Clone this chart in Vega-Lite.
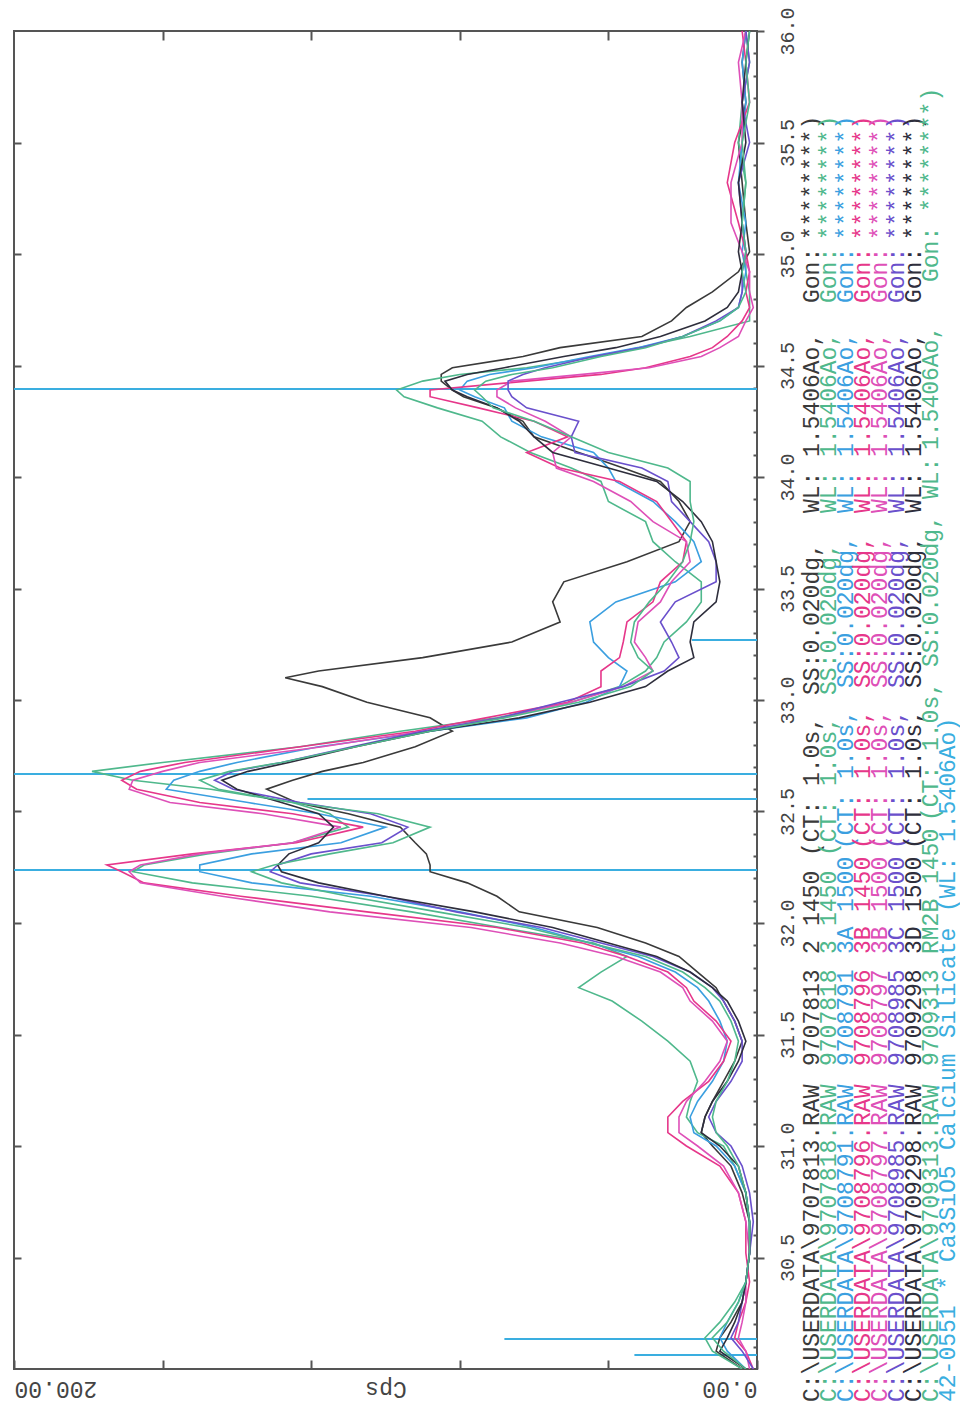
{
"$schema":"https://vega.github.io/schema/vega-lite/v6.json",
"padding":{"left":12,"top":5,"right":0,"bottom":0},
"background":"white",
"config":{"font":"Liberation Mono","view":{"stroke":"#555","strokeWidth":2},"axis":{"labelFont":"Liberation Mono","titleFont":"Liberation Mono","labelColor":"#444","titleColor":"#444","tickColor":"#555","tickWidth":2,"domain":false,"grid":false,"titleFontWeight":"normal"}},
"datasets":{
"sticks":[{"t":34.395,"c":200},{"t":32.668,"c":200},{"t":32.556,"c":121},{"t":32.238,"c":200},{"t":33.269,"c":17.5},{"t":30.135,"c":68},{"t":30.063,"c":33}],
"legend":[
{"line":1,"col":0,"s":"9707813","txt":"C:\\USERDATA\\9707813.RAW"},{"line":1,"col":24,"s":"9707813","txt":"9707813"},{"line":1,"col":32,"s":"9707813","txt":"2"},{"line":1,"col":34,"s":"9707813","txt":"1450"},{"line":1,"col":39,"s":"9707813","txt":"(CT:"},{"line":1,"col":44,"s":"9707813","txt":"1.0s,"},{"line":1,"col":50.5,"s":"9707813","txt":"SS:0.020dg,"},{"line":1,"col":63.5,"s":"9707813","txt":"WL:"},{"line":1,"col":67.5,"s":"9707813","txt":"1.5406Ao,"},{"line":1,"col":78.5,"s":"9707813","txt":"Gon:"},{"line":1,"col":83,"s":"9707813","txt":"********)"},
{"line":2,"col":0,"s":"9707818","txt":"C:\\USERDATA\\9707818.RAW"},{"line":2,"col":24,"s":"9707818","txt":"9707818"},{"line":2,"col":32,"s":"9707818","txt":"3"},{"line":2,"col":34,"s":"9707818","txt":"1450"},{"line":2,"col":39,"s":"9707818","txt":"(CT:"},{"line":2,"col":44,"s":"9707818","txt":"1.0s,"},{"line":2,"col":50.5,"s":"9707818","txt":"SS:0.020dg,"},{"line":2,"col":63.5,"s":"9707818","txt":"WL:"},{"line":2,"col":67.5,"s":"9707818","txt":"1.5406Ao,"},{"line":2,"col":78.5,"s":"9707818","txt":"Gon:"},{"line":2,"col":83,"s":"9707818","txt":"********)"},
{"line":3,"col":0,"s":"9708791","txt":"C:\\USERDATA\\9708791.RAW"},{"line":3,"col":24,"s":"9708791","txt":"9708791"},{"line":3,"col":32,"s":"9708791","txt":"3A"},{"line":3,"col":35,"s":"9708791","txt":"1500"},{"line":3,"col":39.5,"s":"9708791","txt":"(CT:"},{"line":3,"col":44.5,"s":"9708791","txt":"1.0s,"},{"line":3,"col":51,"s":"9708791","txt":"SS:0.020dg,"},{"line":3,"col":63.5,"s":"9708791","txt":"WL:"},{"line":3,"col":67.5,"s":"9708791","txt":"1.5406Ao,"},{"line":3,"col":78.5,"s":"9708791","txt":"Gon:"},{"line":3,"col":83,"s":"9708791","txt":"********)"},
{"line":4,"col":0,"s":"9708796","txt":"C:\\USERDATA\\9708796.RAW"},{"line":4,"col":24,"s":"9708796","txt":"9708796"},{"line":4,"col":32,"s":"9708796","txt":"3B"},{"line":4,"col":35,"s":"9708796","txt":"1450"},{"line":4,"col":39.5,"s":"9708796","txt":"(CT:"},{"line":4,"col":44.5,"s":"9708796","txt":"1.0s,"},{"line":4,"col":51,"s":"9708796","txt":"SS:0.020dg,"},{"line":4,"col":63.5,"s":"9708796","txt":"WL:"},{"line":4,"col":67.5,"s":"9708796","txt":"1.5406Ao,"},{"line":4,"col":78.5,"s":"9708796","txt":"Gon:"},{"line":4,"col":83,"s":"9708796","txt":"********)"},
{"line":5,"col":0,"s":"9708797","txt":"C:\\USERDATA\\9708797.RAW"},{"line":5,"col":24,"s":"9708797","txt":"9708797"},{"line":5,"col":32,"s":"9708797","txt":"3B"},{"line":5,"col":35,"s":"9708797","txt":"1500"},{"line":5,"col":39.5,"s":"9708797","txt":"(CT:"},{"line":5,"col":44.5,"s":"9708797","txt":"1.0s,"},{"line":5,"col":51,"s":"9708797","txt":"SS:0.020dg,"},{"line":5,"col":63.5,"s":"9708797","txt":"WL:"},{"line":5,"col":67.5,"s":"9708797","txt":"1.5406Ao,"},{"line":5,"col":78.5,"s":"9708797","txt":"Gon:"},{"line":5,"col":83,"s":"9708797","txt":"********)"},
{"line":6,"col":0,"s":"9708985","txt":"C:\\USERDATA\\9708985.RAW"},{"line":6,"col":24,"s":"9708985","txt":"9708985"},{"line":6,"col":32,"s":"9708985","txt":"3C"},{"line":6,"col":35,"s":"9708985","txt":"1500"},{"line":6,"col":39.5,"s":"9708985","txt":"(CT:"},{"line":6,"col":44.5,"s":"9708985","txt":"1.0s,"},{"line":6,"col":51,"s":"9708985","txt":"SS:0.020dg,"},{"line":6,"col":63.5,"s":"9708985","txt":"WL:"},{"line":6,"col":67.5,"s":"9708985","txt":"1.5406Ao,"},{"line":6,"col":78.5,"s":"9708985","txt":"Gon:"},{"line":6,"col":83,"s":"9708985","txt":"********)"},
{"line":7,"col":0,"s":"9709298","txt":"C:\\USERDATA\\9709298.RAW"},{"line":7,"col":24,"s":"9709298","txt":"9709298"},{"line":7,"col":32,"s":"9709298","txt":"3D"},{"line":7,"col":35,"s":"9709298","txt":"1500"},{"line":7,"col":39.5,"s":"9709298","txt":"(CT:"},{"line":7,"col":44.5,"s":"9709298","txt":"1.0s,"},{"line":7,"col":51,"s":"9709298","txt":"SS:0.020dg,"},{"line":7,"col":63.5,"s":"9709298","txt":"WL:"},{"line":7,"col":67.5,"s":"9709298","txt":"1.5406Ao,"},{"line":7,"col":78.5,"s":"9709298","txt":"Gon:"},{"line":7,"col":83,"s":"9709298","txt":"********)"},
{"line":8,"col":0,"s":"9709313","txt":"C:\\USERDATA\\9709313.RAW"},{"line":8,"col":24,"s":"9709313","txt":"9709313"},{"line":8,"col":32,"s":"9709313","txt":"RM2B"},{"line":8,"col":37,"s":"9709313","txt":"1450"},{"line":8,"col":41.5,"s":"9709313","txt":"(CT:"},{"line":8,"col":46.5,"s":"9709313","txt":"1.0s,"},{"line":8,"col":52.5,"s":"9709313","txt":"SS:0.020dg,"},{"line":8,"col":64.5,"s":"9709313","txt":"WL:"},{"line":8,"col":68,"s":"9709313","txt":"1.5406Ao,"},{"line":8,"col":80,"s":"9709313","txt":"Gon:"},{"line":8,"col":85,"s":"9709313","txt":"********)"},
{"line":9,"col":0,"s":"42-0551","txt":"42-0551"},{"line":9,"col":8,"s":"42-0551","txt":"*"},{"line":9,"col":10,"s":"42-0551","txt":"Ca3SiO5"},{"line":9,"col":18,"s":"42-0551","txt":"Calcium"},{"line":9,"col":26,"s":"42-0551","txt":"Silicate"},{"line":9,"col":35,"s":"42-0551","txt":"(WL:"},{"line":9,"col":40,"s":"42-0551","txt":"1.5406Ao)"}
],
"scans":[
{"s":"9707813","t":36,"c":3},{"s":"9707813","t":35.86,"c":4},{"s":"9707813","t":35.68,"c":3},{"s":"9707813","t":35.5,"c":5},{"s":"9707813","t":35.32,"c":4},{"s":"9707813","t":35.14,"c":3},{"s":"9707813","t":35.01,"c":2},{"s":"9707813","t":34.92,"c":5},{"s":"9707813","t":34.83,"c":12},{"s":"9707813","t":34.76,"c":19},{"s":"9707813","t":34.7,"c":23},{"s":"9707813","t":34.63,"c":31},{"s":"9707813","t":34.58,"c":53},{"s":"9707813","t":34.54,"c":63},{"s":"9707813","t":34.49,"c":82},{"s":"9707813","t":34.46,"c":85},{"s":"9707813","t":34.43,"c":85},{"s":"9707813","t":34.39,"c":82},{"s":"9707813","t":34.36,"c":79},{"s":"9707813","t":34.31,"c":70},{"s":"9707813","t":34.25,"c":63},{"s":"9707813","t":34.18,"c":60},{"s":"9707813","t":34.11,"c":48},{"s":"9707813","t":34.04,"c":36},{"s":"9707813","t":33.98,"c":26},{"s":"9707813","t":33.89,"c":21},{"s":"9707813","t":33.8,"c":18},{"s":"9707813","t":33.71,"c":21},{"s":"9707813","t":33.62,"c":35},{"s":"9707813","t":33.53,"c":52},{"s":"9707813","t":33.44,"c":55},{"s":"9707813","t":33.35,"c":53},{"s":"9707813","t":33.26,"c":66},{"s":"9707813","t":33.19,"c":90},{"s":"9707813","t":33.13,"c":118},{"s":"9707813","t":33.1,"c":127},{"s":"9707813","t":33.06,"c":117},{"s":"9707813","t":32.99,"c":105},{"s":"9707813","t":32.92,"c":88},{"s":"9707813","t":32.86,"c":82},{"s":"9707813","t":32.79,"c":92},{"s":"9707813","t":32.72,"c":106},{"s":"9707813","t":32.68,"c":117},{"s":"9707813","t":32.64,"c":125},{"s":"9707813","t":32.6,"c":132},{"s":"9707813","t":32.54,"c":124},{"s":"9707813","t":32.49,"c":110},{"s":"9707813","t":32.43,"c":96},{"s":"9707813","t":32.36,"c":92},{"s":"9707813","t":32.31,"c":89},{"s":"9707813","t":32.26,"c":88},{"s":"9707813","t":32.23,"c":88},{"s":"9707813","t":32.18,"c":78},{"s":"9707813","t":32.12,"c":70},{"s":"9707813","t":32.05,"c":64},{"s":"9707813","t":31.98,"c":43},{"s":"9707813","t":31.91,"c":30},{"s":"9707813","t":31.85,"c":21},{"s":"9707813","t":31.78,"c":16},{"s":"9707813","t":31.71,"c":11},{"s":"9707813","t":31.65,"c":9},{"s":"9707813","t":31.56,"c":6},{"s":"9707813","t":31.47,"c":4},{"s":"9707813","t":31.38,"c":6},{"s":"9707813","t":31.29,"c":9},{"s":"9707813","t":31.2,"c":12},{"s":"9707813","t":31.13,"c":14},{"s":"9707813","t":31.06,"c":15},{"s":"9707813","t":31,"c":12},{"s":"9707813","t":30.91,"c":7},{"s":"9707813","t":30.79,"c":4},{"s":"9707813","t":30.66,"c":2},{"s":"9707813","t":30.52,"c":2},{"s":"9707813","t":30.39,"c":3},{"s":"9707813","t":30.3,"c":4},{"s":"9707813","t":30.21,"c":7},{"s":"9707813","t":30.14,"c":10},{"s":"9707813","t":30.08,"c":11},{"s":"9707813","t":30,"c":4},
{"s":"9707818","t":36,"c":3},{"s":"9707818","t":35.86,"c":2},{"s":"9707818","t":35.68,"c":4},{"s":"9707818","t":35.5,"c":5},{"s":"9707818","t":35.32,"c":3},{"s":"9707818","t":35.14,"c":4},{"s":"9707818","t":35.01,"c":3},{"s":"9707818","t":34.92,"c":3},{"s":"9707818","t":34.83,"c":2},{"s":"9707818","t":34.76,"c":2},{"s":"9707818","t":34.7,"c":2},{"s":"9707818","t":34.63,"c":18},{"s":"9707818","t":34.58,"c":32},{"s":"9707818","t":34.54,"c":43},{"s":"9707818","t":34.49,"c":62},{"s":"9707818","t":34.46,"c":80},{"s":"9707818","t":34.43,"c":90},{"s":"9707818","t":34.39,"c":97},{"s":"9707818","t":34.36,"c":95},{"s":"9707818","t":34.31,"c":86},{"s":"9707818","t":34.25,"c":74},{"s":"9707818","t":34.18,"c":69},{"s":"9707818","t":34.11,"c":61},{"s":"9707818","t":34.04,"c":50},{"s":"9707818","t":33.98,"c":42},{"s":"9707818","t":33.89,"c":40},{"s":"9707818","t":33.8,"c":30},{"s":"9707818","t":33.71,"c":28},{"s":"9707818","t":33.62,"c":22},{"s":"9707818","t":33.53,"c":15},{"s":"9707818","t":33.44,"c":15},{"s":"9707818","t":33.35,"c":19},{"s":"9707818","t":33.26,"c":25},{"s":"9707818","t":33.19,"c":27},{"s":"9707818","t":33.13,"c":30},{"s":"9707818","t":33.06,"c":37},{"s":"9707818","t":32.99,"c":50},{"s":"9707818","t":32.92,"c":70},{"s":"9707818","t":32.86,"c":96},{"s":"9707818","t":32.79,"c":123},{"s":"9707818","t":32.72,"c":160},{"s":"9707818","t":32.68,"c":179},{"s":"9707818","t":32.64,"c":168},{"s":"9707818","t":32.6,"c":147},{"s":"9707818","t":32.54,"c":125},{"s":"9707818","t":32.49,"c":115},{"s":"9707818","t":32.43,"c":110},{"s":"9707818","t":32.36,"c":125},{"s":"9707818","t":32.31,"c":148},{"s":"9707818","t":32.26,"c":165},{"s":"9707818","t":32.23,"c":168},{"s":"9707818","t":32.18,"c":152},{"s":"9707818","t":32.12,"c":120},{"s":"9707818","t":32.05,"c":93},{"s":"9707818","t":31.98,"c":69},{"s":"9707818","t":31.91,"c":44},{"s":"9707818","t":31.85,"c":35},{"s":"9707818","t":31.78,"c":42},{"s":"9707818","t":31.71,"c":48},{"s":"9707818","t":31.65,"c":39},{"s":"9707818","t":31.56,"c":31},{"s":"9707818","t":31.47,"c":24},{"s":"9707818","t":31.38,"c":18},{"s":"9707818","t":31.29,"c":16},{"s":"9707818","t":31.2,"c":18},{"s":"9707818","t":31.13,"c":19},{"s":"9707818","t":31.06,"c":16},{"s":"9707818","t":31,"c":9},{"s":"9707818","t":30.91,"c":6},{"s":"9707818","t":30.79,"c":3},{"s":"9707818","t":30.66,"c":2},{"s":"9707818","t":30.52,"c":2},{"s":"9707818","t":30.39,"c":3},{"s":"9707818","t":30.3,"c":6},{"s":"9707818","t":30.21,"c":10},{"s":"9707818","t":30.14,"c":14},{"s":"9707818","t":30.08,"c":12},{"s":"9707818","t":30,"c":4},
{"s":"9708791","t":36,"c":3},{"s":"9708791","t":35.86,"c":4},{"s":"9708791","t":35.68,"c":3},{"s":"9708791","t":35.5,"c":4},{"s":"9708791","t":35.32,"c":5},{"s":"9708791","t":35.14,"c":3},{"s":"9708791","t":35.01,"c":4},{"s":"9708791","t":34.92,"c":3},{"s":"9708791","t":34.83,"c":4},{"s":"9708791","t":34.76,"c":5},{"s":"9708791","t":34.7,"c":10},{"s":"9708791","t":34.63,"c":20},{"s":"9708791","t":34.58,"c":32},{"s":"9708791","t":34.54,"c":45},{"s":"9708791","t":34.49,"c":60},{"s":"9708791","t":34.46,"c":72},{"s":"9708791","t":34.43,"c":78},{"s":"9708791","t":34.39,"c":80},{"s":"9708791","t":34.36,"c":76},{"s":"9708791","t":34.31,"c":68},{"s":"9708791","t":34.25,"c":66},{"s":"9708791","t":34.18,"c":58},{"s":"9708791","t":34.11,"c":44},{"s":"9708791","t":34.04,"c":40},{"s":"9708791","t":33.98,"c":38},{"s":"9708791","t":33.89,"c":28},{"s":"9708791","t":33.8,"c":22},{"s":"9708791","t":33.71,"c":17},{"s":"9708791","t":33.62,"c":15},{"s":"9708791","t":33.53,"c":22},{"s":"9708791","t":33.44,"c":38},{"s":"9708791","t":33.35,"c":45},{"s":"9708791","t":33.26,"c":44},{"s":"9708791","t":33.19,"c":40},{"s":"9708791","t":33.13,"c":35},{"s":"9708791","t":33.06,"c":37},{"s":"9708791","t":32.99,"c":46},{"s":"9708791","t":32.92,"c":62},{"s":"9708791","t":32.86,"c":88},{"s":"9708791","t":32.79,"c":118},{"s":"9708791","t":32.72,"c":140},{"s":"9708791","t":32.68,"c":150},{"s":"9708791","t":32.64,"c":157},{"s":"9708791","t":32.6,"c":159},{"s":"9708791","t":32.54,"c":137},{"s":"9708791","t":32.49,"c":118},{"s":"9708791","t":32.43,"c":100},{"s":"9708791","t":32.36,"c":112},{"s":"9708791","t":32.31,"c":136},{"s":"9708791","t":32.26,"c":150},{"s":"9708791","t":32.23,"c":150},{"s":"9708791","t":32.18,"c":136},{"s":"9708791","t":32.12,"c":104},{"s":"9708791","t":32.05,"c":80},{"s":"9708791","t":31.98,"c":60},{"s":"9708791","t":31.91,"c":45},{"s":"9708791","t":31.85,"c":32},{"s":"9708791","t":31.78,"c":22},{"s":"9708791","t":31.71,"c":16},{"s":"9708791","t":31.65,"c":13},{"s":"9708791","t":31.56,"c":10},{"s":"9708791","t":31.47,"c":8},{"s":"9708791","t":31.38,"c":9},{"s":"9708791","t":31.29,"c":12},{"s":"9708791","t":31.2,"c":16},{"s":"9708791","t":31.13,"c":18},{"s":"9708791","t":31.06,"c":17},{"s":"9708791","t":31,"c":11},{"s":"9708791","t":30.91,"c":6},{"s":"9708791","t":30.79,"c":3},{"s":"9708791","t":30.66,"c":2},{"s":"9708791","t":30.52,"c":2},{"s":"9708791","t":30.39,"c":3},{"s":"9708791","t":30.3,"c":5},{"s":"9708791","t":30.21,"c":8},{"s":"9708791","t":30.14,"c":10},{"s":"9708791","t":30.08,"c":8},{"s":"9708791","t":30,"c":3},
{"s":"9708796","t":36,"c":4},{"s":"9708796","t":35.86,"c":3},{"s":"9708796","t":35.68,"c":2},{"s":"9708796","t":35.5,"c":6},{"s":"9708796","t":35.32,"c":8},{"s":"9708796","t":35.14,"c":5},{"s":"9708796","t":35.01,"c":3},{"s":"9708796","t":34.92,"c":2},{"s":"9708796","t":34.83,"c":3},{"s":"9708796","t":34.76,"c":2},{"s":"9708796","t":34.7,"c":4},{"s":"9708796","t":34.63,"c":8},{"s":"9708796","t":34.58,"c":12},{"s":"9708796","t":34.54,"c":18},{"s":"9708796","t":34.49,"c":30},{"s":"9708796","t":34.46,"c":42},{"s":"9708796","t":34.43,"c":62},{"s":"9708796","t":34.39,"c":88},{"s":"9708796","t":34.36,"c":88},{"s":"9708796","t":34.31,"c":75},{"s":"9708796","t":34.25,"c":60},{"s":"9708796","t":34.18,"c":51},{"s":"9708796","t":34.11,"c":62},{"s":"9708796","t":34.04,"c":53},{"s":"9708796","t":33.98,"c":37},{"s":"9708796","t":33.89,"c":27},{"s":"9708796","t":33.8,"c":23},{"s":"9708796","t":33.71,"c":19},{"s":"9708796","t":33.62,"c":20},{"s":"9708796","t":33.53,"c":26},{"s":"9708796","t":33.44,"c":28},{"s":"9708796","t":33.35,"c":35},{"s":"9708796","t":33.26,"c":36},{"s":"9708796","t":33.19,"c":37},{"s":"9708796","t":33.13,"c":42},{"s":"9708796","t":33.06,"c":42},{"s":"9708796","t":32.99,"c":51},{"s":"9708796","t":32.92,"c":73},{"s":"9708796","t":32.86,"c":92},{"s":"9708796","t":32.79,"c":123},{"s":"9708796","t":32.72,"c":154},{"s":"9708796","t":32.68,"c":166},{"s":"9708796","t":32.64,"c":171},{"s":"9708796","t":32.6,"c":167},{"s":"9708796","t":32.54,"c":150},{"s":"9708796","t":32.49,"c":125},{"s":"9708796","t":32.43,"c":106},{"s":"9708796","t":32.36,"c":124},{"s":"9708796","t":32.31,"c":152},{"s":"9708796","t":32.26,"c":175},{"s":"9708796","t":32.23,"c":171},{"s":"9708796","t":32.18,"c":165},{"s":"9708796","t":32.12,"c":139},{"s":"9708796","t":32.05,"c":105},{"s":"9708796","t":31.98,"c":70},{"s":"9708796","t":31.91,"c":47},{"s":"9708796","t":31.85,"c":35},{"s":"9708796","t":31.78,"c":24},{"s":"9708796","t":31.71,"c":19},{"s":"9708796","t":31.65,"c":17},{"s":"9708796","t":31.56,"c":11},{"s":"9708796","t":31.47,"c":7},{"s":"9708796","t":31.38,"c":9},{"s":"9708796","t":31.29,"c":13},{"s":"9708796","t":31.2,"c":20},{"s":"9708796","t":31.13,"c":24},{"s":"9708796","t":31.06,"c":24},{"s":"9708796","t":31,"c":19},{"s":"9708796","t":30.91,"c":10},{"s":"9708796","t":30.79,"c":5},{"s":"9708796","t":30.66,"c":3},{"s":"9708796","t":30.52,"c":3},{"s":"9708796","t":30.39,"c":2},{"s":"9708796","t":30.3,"c":3},{"s":"9708796","t":30.21,"c":5},{"s":"9708796","t":30.14,"c":6},{"s":"9708796","t":30.08,"c":3},{"s":"9708796","t":30,"c":1},
{"s":"9708797","t":36,"c":3},{"s":"9708797","t":35.86,"c":5},{"s":"9708797","t":35.68,"c":4},{"s":"9708797","t":35.5,"c":4},{"s":"9708797","t":35.32,"c":7},{"s":"9708797","t":35.14,"c":7},{"s":"9708797","t":35.01,"c":4},{"s":"9708797","t":34.92,"c":2},{"s":"9708797","t":34.83,"c":2},{"s":"9708797","t":34.76,"c":1},{"s":"9708797","t":34.7,"c":3},{"s":"9708797","t":34.63,"c":5},{"s":"9708797","t":34.58,"c":10},{"s":"9708797","t":34.54,"c":15},{"s":"9708797","t":34.49,"c":29},{"s":"9708797","t":34.46,"c":47},{"s":"9708797","t":34.43,"c":66},{"s":"9708797","t":34.39,"c":70},{"s":"9708797","t":34.36,"c":70},{"s":"9708797","t":34.31,"c":65},{"s":"9708797","t":34.25,"c":57},{"s":"9708797","t":34.18,"c":50},{"s":"9708797","t":34.11,"c":55},{"s":"9708797","t":34.04,"c":54},{"s":"9708797","t":33.98,"c":44},{"s":"9708797","t":33.89,"c":34},{"s":"9708797","t":33.8,"c":28},{"s":"9708797","t":33.71,"c":19},{"s":"9708797","t":33.62,"c":18},{"s":"9708797","t":33.53,"c":23},{"s":"9708797","t":33.44,"c":26},{"s":"9708797","t":33.35,"c":32},{"s":"9708797","t":33.26,"c":33},{"s":"9708797","t":33.19,"c":30},{"s":"9708797","t":33.13,"c":28},{"s":"9708797","t":33.06,"c":36},{"s":"9708797","t":32.99,"c":50},{"s":"9708797","t":32.92,"c":69},{"s":"9708797","t":32.86,"c":90},{"s":"9708797","t":32.79,"c":117},{"s":"9708797","t":32.72,"c":150},{"s":"9708797","t":32.68,"c":160},{"s":"9708797","t":32.64,"c":168},{"s":"9708797","t":32.6,"c":169},{"s":"9708797","t":32.54,"c":158},{"s":"9708797","t":32.49,"c":133},{"s":"9708797","t":32.43,"c":112},{"s":"9708797","t":32.36,"c":125},{"s":"9708797","t":32.31,"c":150},{"s":"9708797","t":32.26,"c":166},{"s":"9708797","t":32.23,"c":169},{"s":"9708797","t":32.18,"c":166},{"s":"9708797","t":32.12,"c":144},{"s":"9708797","t":32.05,"c":115},{"s":"9708797","t":31.98,"c":77},{"s":"9708797","t":31.91,"c":53},{"s":"9708797","t":31.85,"c":38},{"s":"9708797","t":31.78,"c":26},{"s":"9708797","t":31.71,"c":20},{"s":"9708797","t":31.65,"c":18},{"s":"9708797","t":31.56,"c":12},{"s":"9708797","t":31.47,"c":8},{"s":"9708797","t":31.38,"c":10},{"s":"9708797","t":31.29,"c":14},{"s":"9708797","t":31.2,"c":19},{"s":"9708797","t":31.13,"c":21},{"s":"9708797","t":31.06,"c":21},{"s":"9708797","t":31,"c":16},{"s":"9708797","t":30.91,"c":9},{"s":"9708797","t":30.79,"c":5},{"s":"9708797","t":30.66,"c":3},{"s":"9708797","t":30.52,"c":2},{"s":"9708797","t":30.39,"c":3},{"s":"9708797","t":30.3,"c":3},{"s":"9708797","t":30.21,"c":4},{"s":"9708797","t":30.14,"c":5},{"s":"9708797","t":30.08,"c":3},{"s":"9708797","t":30,"c":2},
{"s":"9708985","t":36,"c":3},{"s":"9708985","t":35.86,"c":2},{"s":"9708985","t":35.68,"c":4},{"s":"9708985","t":35.5,"c":2},{"s":"9708985","t":35.32,"c":5},{"s":"9708985","t":35.14,"c":4},{"s":"9708985","t":35.01,"c":3},{"s":"9708985","t":34.92,"c":4},{"s":"9708985","t":34.83,"c":4},{"s":"9708985","t":34.76,"c":5},{"s":"9708985","t":34.7,"c":11},{"s":"9708985","t":34.63,"c":20},{"s":"9708985","t":34.58,"c":31},{"s":"9708985","t":34.54,"c":44},{"s":"9708985","t":34.49,"c":57},{"s":"9708985","t":34.46,"c":63},{"s":"9708985","t":34.43,"c":67},{"s":"9708985","t":34.39,"c":67},{"s":"9708985","t":34.36,"c":66},{"s":"9708985","t":34.31,"c":62},{"s":"9708985","t":34.25,"c":48},{"s":"9708985","t":34.18,"c":50},{"s":"9708985","t":34.11,"c":49},{"s":"9708985","t":34.04,"c":31},{"s":"9708985","t":33.98,"c":24},{"s":"9708985","t":33.89,"c":23},{"s":"9708985","t":33.8,"c":18},{"s":"9708985","t":33.71,"c":13},{"s":"9708985","t":33.62,"c":11},{"s":"9708985","t":33.53,"c":11},{"s":"9708985","t":33.44,"c":22},{"s":"9708985","t":33.35,"c":26},{"s":"9708985","t":33.26,"c":23},{"s":"9708985","t":33.19,"c":21},{"s":"9708985","t":33.13,"c":25},{"s":"9708985","t":33.06,"c":36},{"s":"9708985","t":32.99,"c":53},{"s":"9708985","t":32.92,"c":69},{"s":"9708985","t":32.86,"c":90},{"s":"9708985","t":32.79,"c":109},{"s":"9708985","t":32.72,"c":128},{"s":"9708985","t":32.68,"c":141},{"s":"9708985","t":32.64,"c":146},{"s":"9708985","t":32.6,"c":141},{"s":"9708985","t":32.54,"c":123},{"s":"9708985","t":32.49,"c":104},{"s":"9708985","t":32.43,"c":94},{"s":"9708985","t":32.36,"c":101},{"s":"9708985","t":32.31,"c":120},{"s":"9708985","t":32.26,"c":129},{"s":"9708985","t":32.23,"c":131},{"s":"9708985","t":32.18,"c":123},{"s":"9708985","t":32.12,"c":100},{"s":"9708985","t":32.05,"c":81},{"s":"9708985","t":31.98,"c":58},{"s":"9708985","t":31.91,"c":42},{"s":"9708985","t":31.85,"c":28},{"s":"9708985","t":31.78,"c":18},{"s":"9708985","t":31.71,"c":12},{"s":"9708985","t":31.65,"c":9},{"s":"9708985","t":31.56,"c":6},{"s":"9708985","t":31.47,"c":4},{"s":"9708985","t":31.38,"c":4},{"s":"9708985","t":31.29,"c":7},{"s":"9708985","t":31.2,"c":11},{"s":"9708985","t":31.13,"c":13},{"s":"9708985","t":31.06,"c":11},{"s":"9708985","t":31,"c":7},{"s":"9708985","t":30.91,"c":4},{"s":"9708985","t":30.79,"c":2},{"s":"9708985","t":30.66,"c":1},{"s":"9708985","t":30.52,"c":2},{"s":"9708985","t":30.39,"c":3},{"s":"9708985","t":30.3,"c":4},{"s":"9708985","t":30.21,"c":5},{"s":"9708985","t":30.14,"c":7},{"s":"9708985","t":30.08,"c":4},{"s":"9708985","t":30,"c":1},
{"s":"9709298","t":36,"c":2},{"s":"9709298","t":35.86,"c":3},{"s":"9709298","t":35.68,"c":4},{"s":"9709298","t":35.5,"c":3},{"s":"9709298","t":35.32,"c":5},{"s":"9709298","t":35.14,"c":4},{"s":"9709298","t":35.01,"c":5},{"s":"9709298","t":34.92,"c":4},{"s":"9709298","t":34.83,"c":5},{"s":"9709298","t":34.76,"c":8},{"s":"9709298","t":34.7,"c":14},{"s":"9709298","t":34.63,"c":26},{"s":"9709298","t":34.58,"c":38},{"s":"9709298","t":34.54,"c":52},{"s":"9709298","t":34.49,"c":68},{"s":"9709298","t":34.46,"c":78},{"s":"9709298","t":34.43,"c":84},{"s":"9709298","t":34.39,"c":82},{"s":"9709298","t":34.36,"c":78},{"s":"9709298","t":34.31,"c":70},{"s":"9709298","t":34.25,"c":64},{"s":"9709298","t":34.18,"c":60},{"s":"9709298","t":34.11,"c":55},{"s":"9709298","t":34.04,"c":40},{"s":"9709298","t":33.98,"c":27},{"s":"9709298","t":33.89,"c":20},{"s":"9709298","t":33.8,"c":15},{"s":"9709298","t":33.71,"c":12},{"s":"9709298","t":33.62,"c":11},{"s":"9709298","t":33.53,"c":10},{"s":"9709298","t":33.44,"c":11},{"s":"9709298","t":33.35,"c":17},{"s":"9709298","t":33.26,"c":18},{"s":"9709298","t":33.19,"c":17},{"s":"9709298","t":33.13,"c":24},{"s":"9709298","t":33.06,"c":30},{"s":"9709298","t":32.99,"c":45},{"s":"9709298","t":32.92,"c":64},{"s":"9709298","t":32.86,"c":88},{"s":"9709298","t":32.79,"c":108},{"s":"9709298","t":32.72,"c":126},{"s":"9709298","t":32.68,"c":137},{"s":"9709298","t":32.64,"c":144},{"s":"9709298","t":32.6,"c":140},{"s":"9709298","t":32.54,"c":128},{"s":"9709298","t":32.49,"c":118},{"s":"9709298","t":32.43,"c":114},{"s":"9709298","t":32.36,"c":118},{"s":"9709298","t":32.31,"c":126},{"s":"9709298","t":32.26,"c":129},{"s":"9709298","t":32.23,"c":128},{"s":"9709298","t":32.18,"c":118},{"s":"9709298","t":32.12,"c":100},{"s":"9709298","t":32.05,"c":76},{"s":"9709298","t":31.98,"c":55},{"s":"9709298","t":31.91,"c":40},{"s":"9709298","t":31.85,"c":27},{"s":"9709298","t":31.78,"c":18},{"s":"9709298","t":31.71,"c":12},{"s":"9709298","t":31.65,"c":8},{"s":"9709298","t":31.56,"c":5},{"s":"9709298","t":31.47,"c":3},{"s":"9709298","t":31.38,"c":5},{"s":"9709298","t":31.29,"c":8},{"s":"9709298","t":31.2,"c":12},{"s":"9709298","t":31.13,"c":14},{"s":"9709298","t":31.06,"c":15},{"s":"9709298","t":31,"c":10},{"s":"9709298","t":30.91,"c":5},{"s":"9709298","t":30.79,"c":3},{"s":"9709298","t":30.66,"c":2},{"s":"9709298","t":30.52,"c":2},{"s":"9709298","t":30.39,"c":3},{"s":"9709298","t":30.3,"c":4},{"s":"9709298","t":30.21,"c":6},{"s":"9709298","t":30.14,"c":8},{"s":"9709298","t":30.08,"c":10},{"s":"9709298","t":30,"c":3},
{"s":"9709313","t":36,"c":2},{"s":"9709313","t":35.86,"c":3},{"s":"9709313","t":35.68,"c":2},{"s":"9709313","t":35.5,"c":4},{"s":"9709313","t":35.32,"c":3},{"s":"9709313","t":35.14,"c":4},{"s":"9709313","t":35.01,"c":3},{"s":"9709313","t":34.92,"c":4},{"s":"9709313","t":34.83,"c":3},{"s":"9709313","t":34.76,"c":5},{"s":"9709313","t":34.7,"c":10},{"s":"9709313","t":34.63,"c":20},{"s":"9709313","t":34.58,"c":30},{"s":"9709313","t":34.54,"c":42},{"s":"9709313","t":34.49,"c":55},{"s":"9709313","t":34.46,"c":66},{"s":"9709313","t":34.43,"c":73},{"s":"9709313","t":34.39,"c":76},{"s":"9709313","t":34.36,"c":74},{"s":"9709313","t":34.31,"c":71},{"s":"9709313","t":34.25,"c":60},{"s":"9709313","t":34.18,"c":50},{"s":"9709313","t":34.11,"c":40},{"s":"9709313","t":34.04,"c":24},{"s":"9709313","t":33.98,"c":18},{"s":"9709313","t":33.89,"c":18},{"s":"9709313","t":33.8,"c":17},{"s":"9709313","t":33.71,"c":18},{"s":"9709313","t":33.62,"c":20},{"s":"9709313","t":33.53,"c":24},{"s":"9709313","t":33.44,"c":29},{"s":"9709313","t":33.35,"c":33},{"s":"9709313","t":33.26,"c":34},{"s":"9709313","t":33.19,"c":32},{"s":"9709313","t":33.13,"c":28},{"s":"9709313","t":33.06,"c":34},{"s":"9709313","t":32.99,"c":48},{"s":"9709313","t":32.92,"c":68},{"s":"9709313","t":32.86,"c":88},{"s":"9709313","t":32.79,"c":108},{"s":"9709313","t":32.72,"c":128},{"s":"9709313","t":32.68,"c":142},{"s":"9709313","t":32.64,"c":150},{"s":"9709313","t":32.6,"c":145},{"s":"9709313","t":32.54,"c":125},{"s":"9709313","t":32.49,"c":102},{"s":"9709313","t":32.43,"c":88},{"s":"9709313","t":32.36,"c":98},{"s":"9709313","t":32.31,"c":115},{"s":"9709313","t":32.26,"c":130},{"s":"9709313","t":32.23,"c":136},{"s":"9709313","t":32.18,"c":128},{"s":"9709313","t":32.12,"c":110},{"s":"9709313","t":32.05,"c":86},{"s":"9709313","t":31.98,"c":62},{"s":"9709313","t":31.91,"c":45},{"s":"9709313","t":31.85,"c":30},{"s":"9709313","t":31.78,"c":20},{"s":"9709313","t":31.71,"c":14},{"s":"9709313","t":31.65,"c":10},{"s":"9709313","t":31.56,"c":7},{"s":"9709313","t":31.47,"c":5},{"s":"9709313","t":31.38,"c":6},{"s":"9709313","t":31.29,"c":8},{"s":"9709313","t":31.2,"c":11},{"s":"9709313","t":31.13,"c":12},{"s":"9709313","t":31.06,"c":11},{"s":"9709313","t":31,"c":8},{"s":"9709313","t":30.91,"c":5},{"s":"9709313","t":30.79,"c":3},{"s":"9709313","t":30.66,"c":2},{"s":"9709313","t":30.52,"c":2},{"s":"9709313","t":30.39,"c":3},{"s":"9709313","t":30.3,"c":5},{"s":"9709313","t":30.21,"c":8},{"s":"9709313","t":30.14,"c":12},{"s":"9709313","t":30.08,"c":9},{"s":"9709313","t":30,"c":3}
]},
"spacing":0,
"bounds":"flush",
"hconcat":[
{
"width":743,"height":1338,
"resolve":{"axis":{"x":"independent","y":"independent"}},
"layer":[
{"data":{"name":"sticks"},
 "mark":{"type":"rule","color":"#3aaee0","strokeWidth":2,"clip":true},
 "encoding":{
  "y":{"field":"t","type":"quantitative","scale":{"domain":[30,36],"nice":false,"zero":false},
       "axis":{"orient":"right","values":[30.5,31,31.5,32,32.5,33,33.5,34,34.5,35,35.5,36],"format":".1f","labelAngle":270,"labelAlign":"center","labelBaseline":"top","tickSize":7,"labelPadding":13,"labelFontSize":20,"labelFlush":false,"labelOverlap":false,"labelBound":false,"title":null}},
  "x":{"field":"c","type":"quantitative","scale":{"domain":[0,200],"reverse":true,"nice":false,"zero":false},
       "axis":{"orient":"bottom","values":[0,40,80,120,160,200],"tickSize":-9,"labelExpr":"datum.value == 0 ? '0.00' : (datum.value == 200 ? '200.00' : '')","labelAngle":180,"labelAlign":{"condition":{"test":"datum.value == 200","value":"right"},"value":"left"},"labelBaseline":"alphabetic","labelPadding":21,"labelFontSize":23,"labelFlush":false,"labelOverlap":false,"labelBound":false,"title":"Cps","titleAngle":180,"titleFontSize":23,"titleBaseline":"alphabetic","titleY":12}},
  "x2":{"datum":0}
 }},
{"data":{"name":"scans"},
 "transform":[{"filter":{"field":"s","oneOf":["9707813","9707818","9708791","9708796"]}}],
 "mark":{"type":"line","strokeWidth":1.6,"clip":true},
 "encoding":{
  "y":{"field":"t","type":"quantitative","scale":{"domain":[30,36],"nice":false,"zero":false},
       "axis":{"orient":"right","values":[30.1,30.2,30.3,30.4,30.5,30.6,30.7,30.8,30.9,31,31.1,31.2,31.3,31.4,31.5,31.6,31.7,31.8,31.9,32,32.1,32.2,32.3,32.4,32.5,32.6,32.7,32.8,32.9,33,33.1,33.2,33.3,33.4,33.5,33.6,33.7,33.8,33.9,34,34.1,34.2,34.3,34.4,34.5,34.6,34.7,34.8,34.9,35,35.1,35.2,35.3,35.4,35.5,35.6,35.7,35.8,35.9],"tickSize":-4,"labels":false,"title":null}},
  "x":{"field":"c","type":"quantitative","scale":{"domain":[0,200],"reverse":true,"nice":false,"zero":false},
       "axis":{"orient":"top","values":[40,80,120,160],"tickSize":-9,"labels":false,"title":null}},
  "order":{"field":"t","type":"quantitative"},
  "color":{"field":"s","type":"nominal","legend":null,
     "scale":{"domain":["9707813","9707818","9708791","9708796","9708797","9708985","9709298","9709313","42-0551"],
              "range":["#3a3a3a","#4fb88c","#3b9fe0","#e6378a","#de50b8","#6a50cc","#2e2e3c","#4fb88c","#3aaee0"]}}
 }},
{"data":{"name":"scans"},
 "transform":[{"filter":{"field":"s","oneOf":["9708797","9708985","9709298","9709313"]}}],
 "mark":{"type":"line","strokeWidth":1.6,"clip":true},
 "encoding":{
  "y":{"field":"t","type":"quantitative","scale":{"domain":[30,36],"nice":false,"zero":false},
       "axis":{"orient":"left","values":[30.5,31,31.5,32,32.5,33,33.5,34,34.5,35,35.5],"tickSize":-7,"labels":false,"title":null}},
  "x":{"field":"c","type":"quantitative","scale":{"domain":[0,200],"reverse":true,"nice":false,"zero":false},"axis":null},
  "order":{"field":"t","type":"quantitative"},
  "color":{"field":"s","type":"nominal","legend":null,
     "scale":{"domain":["9707813","9707818","9708791","9708796","9708797","9708985","9709298","9709313","42-0551"],
              "range":["#3a3a3a","#4fb88c","#3b9fe0","#e6378a","#de50b8","#6a50cc","#2e2e3c","#4fb88c","#3aaee0"]}}
 }}
]
},
{
"width":200,"height":1338,
"view":{"stroke":null},
"data":{"name":"legend"},
"mark":{"type":"text","angle":270,"align":"left","baseline":"middle","font":"Liberation Mono","fontSize":23},
"encoding":{
 "x":{"field":"line","type":"quantitative","scale":{"domain":[-2.2,9.5],"nice":false,"zero":false},"axis":null},
 "y":{"field":"col","type":"quantitative","scale":{"domain":[2.357,97.93],"nice":false,"zero":false},"axis":null},
 "text":{"field":"txt"},
 "color":{"field":"s","type":"nominal","legend":null,
     "scale":{"domain":["9707813","9707818","9708791","9708796","9708797","9708985","9709298","9709313","42-0551"],
              "range":["#3a3a3a","#4fb88c","#3b9fe0","#e6378a","#de50b8","#6a50cc","#2e2e3c","#4fb88c","#3aaee0"]}}
}
}
]
}
